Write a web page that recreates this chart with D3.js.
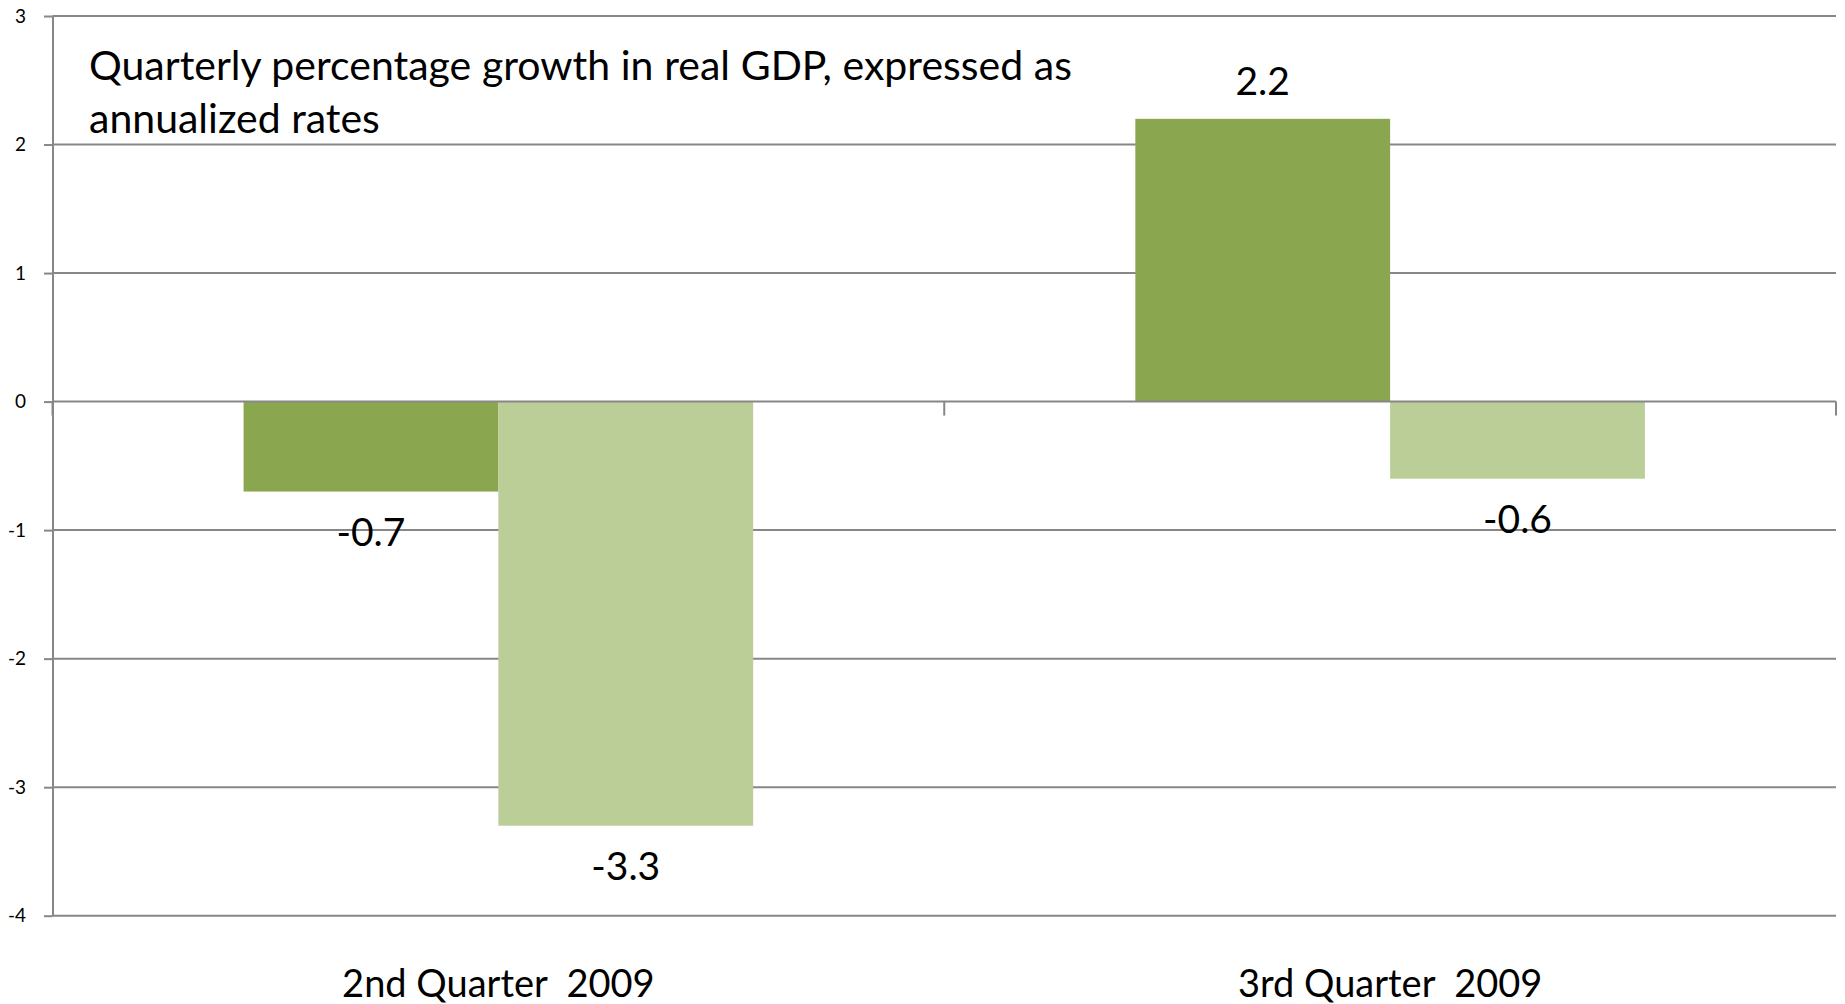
<!DOCTYPE html>
<html><head><meta charset="utf-8">
<script src="https://cdn.jsdelivr.net/npm/d3@7"></script>
<style>
body{margin:0;background:#fff}
svg{display:block}
text{font-family:Lato, "Open Sans", sans-serif; fill:#000}
.cat{white-space:pre}
</style>
</head><body>
<svg id="chart" width="1845" height="1004"></svg>
<script>
const categories = ["2nd Quarter  2009", "3rd Quarter  2009"];
const seriesKeys = ["Series 1", "Series 2"];
const series1Values = [-0.7, 2.2];
const series2Values = [-3.3, -0.6];
const yTickValues = [3, 2, 1, 0, -1, -2, -3, -4];
const titleLines = ["Quarterly percentage growth in real GDP, expressed as", "annualized rates"];

const colors = {"Series 1": "#8aa64f", "Series 2": "#bbce97"};
const gridColor = "#878787";

const svg = d3.select("#chart");
const plotLeft = 52.5, plotRight = 1836, plotTop = 16, plotBottom = 915.7;

const y = d3.scaleLinear().domain([-4, 3]).range([plotBottom, plotTop]);
const x0 = d3.scaleBand().domain(categories).range([plotLeft, plotRight]).padding(0);
const x1 = d3.scaleBand().domain(seriesKeys).range([0, x0.bandwidth()]).paddingInner(0).paddingOuter(0.75);

const data = categories.map((c, i) => ({
  category: c,
  values: [
    {key: "Series 1", value: series1Values[i]},
    {key: "Series 2", value: series2Values[i]}
  ]
}));

const fmt = v => String(v).replace("\u2212", "-");

// gridlines
svg.append("g").selectAll("line").data(yTickValues.filter(v => v !== 0)).join("line")
  .attr("x1", plotLeft).attr("x2", plotRight)
  .attr("y1", d => y(d)).attr("y2", d => y(d))
  .attr("stroke", gridColor).attr("stroke-width", 2);

// y axis
const yAxis = d3.axisLeft(y).tickValues(yTickValues).tickSizeInner(8.5).tickSizeOuter(0).tickPadding(18).tickFormat(fmt);
const gy = svg.append("g").attr("transform", `translate(${plotLeft},0)`).call(yAxis);
gy.selectAll("path, line").attr("stroke", gridColor).attr("stroke-width", 2);
gy.selectAll("text").attr("font-size", 19).attr("font-family", "Lato, sans-serif").attr("fill", "#000");

// bars
const groups = svg.append("g").selectAll("g").data(data).join("g")
  .attr("transform", d => `translate(${x0(d.category)},0)`);
groups.selectAll("rect").data(d => d.values).join("rect")
  .attr("x", d => x1(d.key))
  .attr("width", x1.bandwidth())
  .attr("y", d => y(Math.max(0, d.value)))
  .attr("height", d => Math.abs(y(d.value) - y(0)))
  .attr("fill", d => colors[d.key]);

// zero axis line and category boundary ticks
svg.append("line").attr("x1", plotLeft).attr("x2", plotRight)
  .attr("y1", y(0)).attr("y2", y(0)).attr("stroke", gridColor).attr("stroke-width", 2);
const boundaries = categories.map(c => x0(c)).concat([x0(categories[categories.length - 1]) + x0.bandwidth()]);
svg.append("g").selectAll("line").data(boundaries).join("line")
  .attr("x1", d => d).attr("x2", d => d)
  .attr("y1", y(0)).attr("y2", y(0) + 14)
  .attr("stroke", gridColor).attr("stroke-width", 2);

// data labels
groups.selectAll("text.lbl").data(d => d.values).join("text")
  .attr("class", "lbl")
  .attr("x", d => x1(d.key) + x1.bandwidth() / 2)
  .attr("y", d => d.value >= 0 ? y(d.value) - 24 : y(d.value) + 54)
  .attr("text-anchor", "middle")
  .attr("font-size", 39)
  .text(d => d.value.toFixed(1));

// category labels
svg.append("g").selectAll("text").data(categories).join("text")
  .attr("class", "cat")
  .attr("x", d => x0(d) + x0.bandwidth() / 2)
  .attr("y", 996.5)
  .attr("text-anchor", "middle")
  .attr("font-size", 38)
  .text(d => d);

// title box
const title = svg.append("g");
titleLines.forEach((t, i) => {
  const tx = title.append("text").attr("x", 89).attr("y", 80 + i * 53).attr("font-size", 41).text(t);
  if (i === 0) {
    const target = 983;
    const len = tx.node().getComputedTextLength();
    const spaces = (t.match(/ /g) || []).length;
    tx.attr("word-spacing", (target - len) / spaces);
  }
});
</script>
</body></html>
